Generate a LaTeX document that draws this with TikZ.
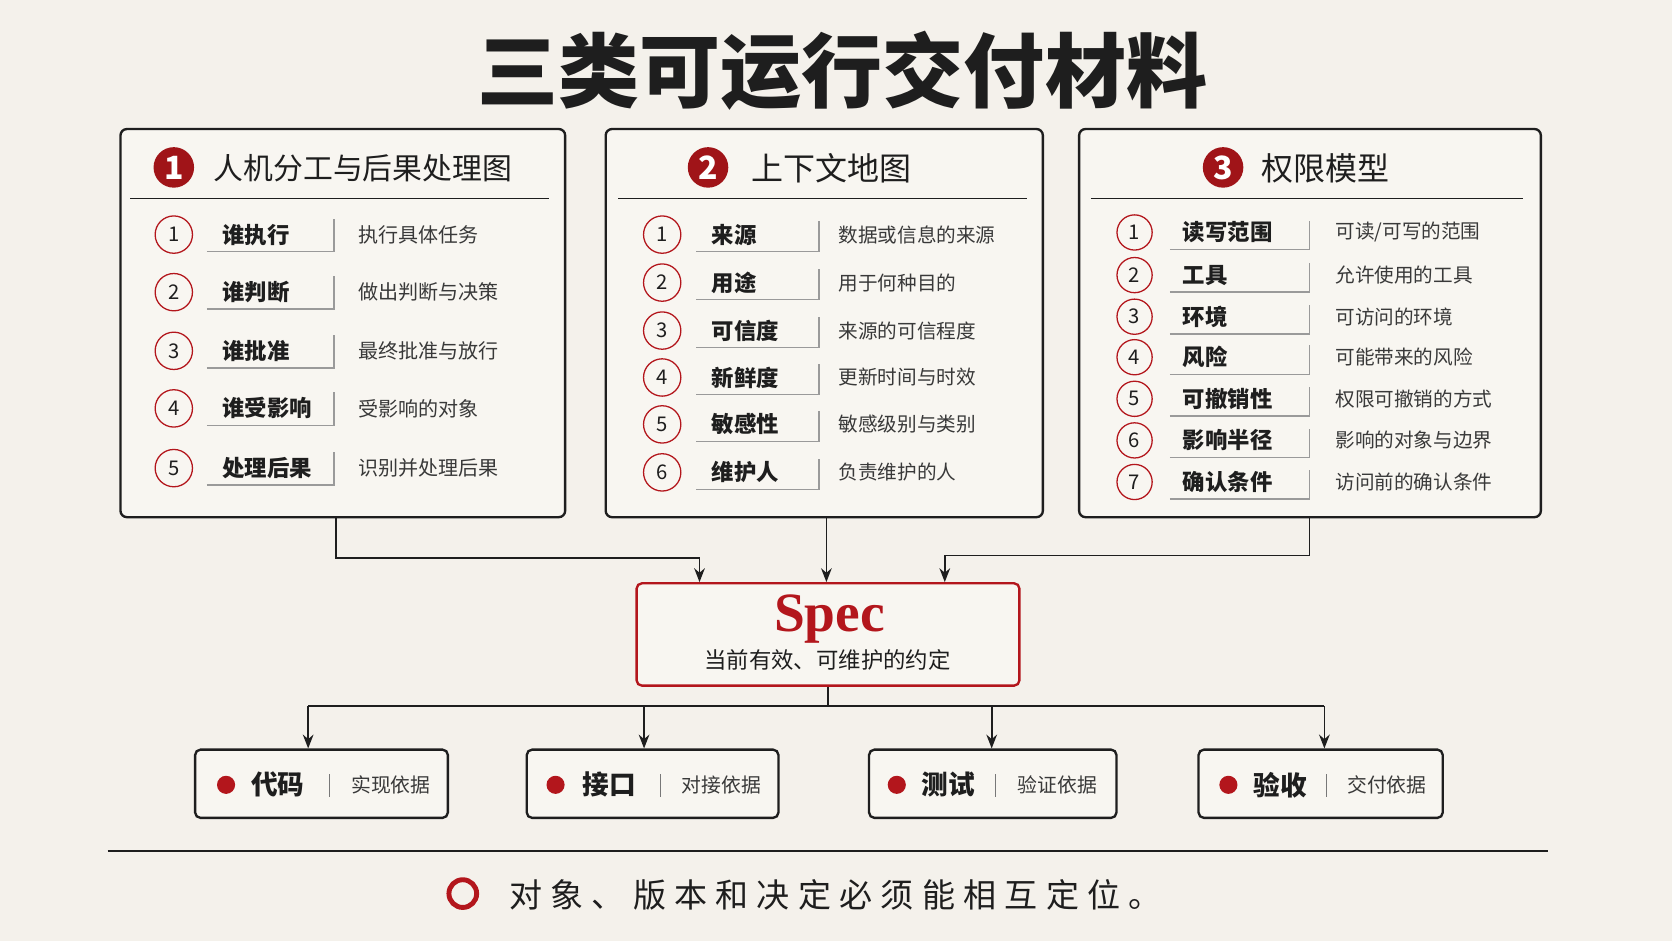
\documentclass[tikz,border=0pt]{standalone}
\usepackage{fontspec}
\setmainfont{Noto Sans CJK SC}
\newfontfamily\specserif{Liberation Serif}
\usetikzlibrary{arrows.meta,calc}
\definecolor{bg}{HTML}{F4F1EB}
\definecolor{panelfill}{HTML}{F8F6F1}
\definecolor{ink}{HTML}{1E1E1E}
\definecolor{redc}{HTML}{B3161C}
\definecolor{darkred}{HTML}{A01418}
\definecolor{lgray}{HTML}{9A9A9A}
\newcommand{\fsz}[1]{\fontsize{#1}{#1}\selectfont}
\tikzset{
  panel/.style={draw=ink, line width=1.1pt, rounded corners=3pt, fill=panelfill},
  outbox/.style={draw=ink, line width=1.1pt, rounded corners=2.5pt, fill=panelfill},
  specbox/.style={draw=redc, line width=1.1pt, rounded corners=2.5pt, fill=panelfill},
  hdrnum/.style={circle, fill=darkred, inner sep=0pt, minimum size=19pt, text=white, font=\bfseries\fsz{15}},
  txt/.style={anchor=west, inner xsep=0pt},
  hdrtext/.style={txt, text=ink, font=\fsz{15}},
  rownum/.style={circle, draw=redc, line width=0.6pt, fill=panelfill, inner sep=0pt, text=ink, font=\fsz{9.5}},
  rowlab/.style={txt, text=ink, font=\bfseries\fsz{10.5}},
  rowdesc/.style={txt, text=ink!88, font=\fsz{9.4}},
  labline/.style={draw=lgray, line width=0.7pt},
  sepline/.style={draw=ink, line width=0.75pt},
  arr/.style={draw=ink, line width=0.8pt, -{Stealth[length=6.5pt,width=5pt]}},
  conn/.style={draw=ink, line width=0.8pt},
  dot/.style={circle, fill=redc, inner sep=0pt, minimum size=8.5pt},
  boxlab/.style={txt, text=ink, font=\bfseries\fsz{12.5}},
  boxdesc/.style={txt, text=ink!88, font=\fsz{9.3}},
}
\begin{document}
\begin{tikzpicture}[x=0.5pt,y=-0.5pt]
\useasboundingbox[fill=bg] (0,0) rectangle (1568,882.5);

% title
\node[text=ink, font=\bfseries\fsz{38}] (title) at (790,66) {三类可运行交付材料};

% panels
\node[panel, minimum width=208.5pt, minimum height=182pt] (p1) at (321.5,303) {};
\node[panel, minimum width=205pt, minimum height=182pt] (p2) at (773,303) {};
\node[panel, minimum width=216.5pt, minimum height=182pt] (p3) at (1228.5,303) {};

% headers
\node[hdrnum] (h1) at (163,157) {1};
\node[hdrtext, font=\fsz{14}] (h1t) at (200,158) {人机分工与后果处理图};
\draw[sepline] (122,186) -- (515,186);
\node[hdrnum] (h2) at (664,157) {2};
\node[hdrtext] (h2t) at (704,158) {上下文地图};
\draw[sepline] (580,186) -- (963,186);
\node[hdrnum] (h3) at (1147,157) {3};
\node[hdrtext] (h3t) at (1183,158) {权限模型};
\draw[sepline] (1023,186) -- (1428,186);

% panel 1 rows
\foreach \n/\y/\lab/\desc in {1/220/谁执行/执行具体任务, 2/274/谁判断/做出判断与决策, 3/329/谁批准/最终批准与放行, 4/383/谁受影响/受影响的对象, 5/439/处理后果/识别并处理后果}{
  \node[rownum, minimum size=17.5pt] (a\n) at (163,\y) {\n};
  \draw[labline] (194,\y+16) -- (313,\y+16) -- (313,\y-15);
  \node[rowlab] (al\n) at (208,\y) {\lab};
  \node[rowdesc] (ad\n) at (336,\y) {\desc};
}
% panel 2 rows
\foreach \n/\y/\lab/\desc in {1/220/来源/数据或信息的来源, 2/265/用途/用于何种目的, 3/310/可信度/来源的可信程度, 4/354/新鲜度/更新时间与时效, 5/398/敏感性/敏感级别与类别, 6/443/维护人/负责维护的人}{
  \node[rownum, minimum size=17.5pt] (b\n) at (621,\y) {\n};
  \draw[labline] (653,\y+16) -- (768,\y+16) -- (768,\y-13);
  \node[rowlab] (bl\n) at (667,\y) {\lab};
  \node[rowdesc, font=\fsz{9.2}] (bd\n) at (786,\y) {\desc};
}
% panel 3 rows
\foreach \n/\y/\lab/\desc in {1/218/读写范围/{可读/可写的范围}, 2/258/工具/允许使用的工具, 3/297/环境/可访问的环境, 4/335/风险/可能带来的风险, 5/374/可撤销性/权限可撤销的方式, 6/413/影响半径/影响的对象与边界, 7/452/确认条件/访问前的确认条件}{
  \node[rownum, minimum size=16.5pt] (c\n) at (1064,\y) {\n};
  \draw[labline] (1097,\y+16) -- (1228,\y+16) -- (1228,\y-11);
  \node[rowlab] (cl\n) at (1109,\y) {\lab};
  \node[rowdesc, font=\fsz{9.2}] (cd\n) at (1252,\y) {\desc};
}

% spec box
\node[specbox, minimum width=179.5pt, minimum height=48pt] (spec) at (776.5,595) {};
\node[text=redc, font=\specserif\bfseries\fsz{26}] (spect) at (778,581) {Spec};
\node[text=ink, font=\fsz{10.5}] (specsub) at (776,619) {当前有效、可维护的约定};

% top connectors
\coordinate (j1) at (315,523);
\coordinate (a1x) at (656,523);
\coordinate (j3) at (1228,521);
\coordinate (a3x) at (886,521);
\draw[arr] (j1 |- p1.south) -- (j1) -- (a1x) -- (a1x |- spec.north);
\draw[arr] ($(p2.south)+(2,0)$) -- ($(p2.south |- spec.north)+(2,0)$);
\draw[arr] (j3 |- p3.south) -- (j3) -- (a3x) -- (a3x |- spec.north);

% bottom boxes
\node[outbox, minimum width=118.5pt, minimum height=32pt] (o1) at (301.5,735) {};
\node[outbox, minimum width=118pt, minimum height=32pt] (o2) at (612,735) {};
\node[outbox, minimum width=116pt, minimum height=32pt] (o3) at (931,735) {};
\node[outbox, minimum width=114.5pt, minimum height=32pt] (o4) at (1238.5,735) {};

% bus
\coordinate (bus) at (776.5,662);
\coordinate (x1) at (289,662);
\coordinate (x2) at (604,662);
\coordinate (x3) at (930,662);
\coordinate (x4) at (1242,662);
\draw[conn] (spec.south) -- (spec.south |- bus);
\draw[conn] (x1) -- (x4);
\draw[arr] (x1) -- (x1 |- o1.north);
\draw[arr] (x2) -- (x2 |- o2.north);
\draw[arr] (x3) -- (x3 |- o3.north);
\draw[arr] (x4) -- (x4 |- o4.north);

% bottom box contents
\node[dot] (d1) at (212,736) {};
\node[boxlab] (l1) at (235,736) {代码};
\draw[draw=ink!60, line width=0.5pt] (309,726) -- (309,747);
\node[boxdesc] (t1) at (329,736) {实现依据};

\node[dot] (d2) at (521,736) {};
\node[boxlab] (l2) at (546,736) {接口};
\draw[draw=ink!60, line width=0.5pt] (619,726) -- (619,747);
\node[boxdesc] (t2) at (639,736) {对接依据};

\node[dot] (d3) at (841,736) {};
\node[boxlab] (l3) at (864,736) {测试};
\draw[draw=ink!60, line width=0.5pt] (934,726) -- (934,747);
\node[boxdesc] (t3) at (954,736) {验证依据};

\node[dot] (d4) at (1152,736) {};
\node[boxlab] (l4) at (1175,736) {验收};
\draw[draw=ink!60, line width=0.5pt] (1244,726) -- (1244,747);
\node[boxdesc] (t4) at (1263,736) {交付依据};

% bottom rule and note
\draw[draw=ink, line width=1pt] (101,798) -- (1452,798);
\node[circle, draw=redc, line width=2.3pt, minimum size=13pt, inner sep=0pt] (ring) at (434,838) {};
\node[txt, text=ink, font=\fsz{15.5}\addfontfeature{LetterSpace=25}] (note) at (477,839) {对象、版本和决定必须能相互定位。};
\end{tikzpicture}
\end{document}
